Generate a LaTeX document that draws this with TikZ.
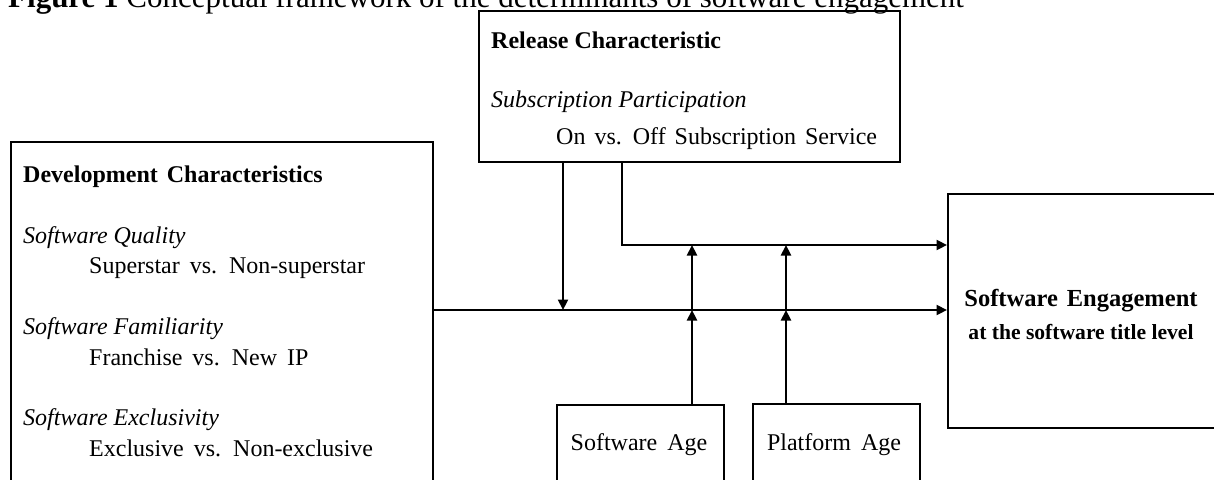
\documentclass[tikz,border=0pt]{standalone}
\usepackage{fontspec}
\setmainfont{Liberation Serif}
\usetikzlibrary{arrows.meta}
% wider interword gaps used in the box texts
\newcommand\wideten{\spaceskip=10pt\relax}
\newcommand\widenine{\spaceskip=9pt\relax}
\begin{document}
\begin{tikzpicture}[x=1pt,y=-1pt,
  box/.style={draw, line width=2.4pt, inner sep=0pt, anchor=north west},
  wire/.style={line width=2.2pt},
  arr/.style={wire, -{Triangle[length=10.5pt,width=10pt]}},
  body/.style={anchor=base west, inner sep=0pt,
    font=\fontsize{24}{29}\selectfont\wideten},
  head/.style={anchor=base west, inner sep=0pt,
    font=\fontsize{24}{29}\selectfont\bfseries\widenine},
  sub/.style={anchor=base west, inner sep=0pt,
    font=\fontsize{24}{29}\selectfont\itshape},
  mid/.style={anchor=base, inner sep=0pt,
    font=\fontsize{24}{29}\selectfont\wideten},
]
\path[use as bounding box] (0,0) rectangle (1214,479);
\clip (0,0) rectangle (1214,479);

% caption
\node[anchor=base west, inner sep=0pt, font=\fontsize{31}{37}\selectfont]
  (cap) at (8,7.5) {\textbf{Figure 1} Conceptual framework of the determinants of software engagement};

% boxes
\node[box, minimum width=422pt, minimum height=400pt] (dev)  at (10,141) {};
\node[box, minimum width=421pt, minimum height=151pt] (rel)  at (478,10) {};
\node[box, minimum width=271pt, minimum height=234pt] (se)   at (947,193) {};
\node[box, minimum width=167pt, minimum height=100pt] (sage) at (556,404) {};
\node[box, minimum width=167pt, minimum height=100pt] (page) at (752,403) {};

% development characteristics
\node[head] (d0) at (23,182) {Development Characteristics};
\node[sub]  (d1) at (23,243) {Software Quality};
\node[body] (d2) at (89,273) {Superstar vs. Non-superstar};
\node[sub]  (d3) at (23,334) {Software Familiarity};
\node[body] (d4) at (89,365) {Franchise vs. New IP};
\node[sub]  (d5) at (23,425) {Software Exclusivity};
\node[body] (d6) at (89,456) {Exclusive vs. Non-exclusive};

% release characteristic
\node[head, font=\fontsize{24}{29}\selectfont\bfseries] (r0) at (491,48) {Release Characteristic};
\node[sub]  (r1) at (491,107) {Subscription Participation};
\node[body, font=\fontsize{24}{29}\selectfont\widenine] (r2) at (556,144) {On vs. Off Subscription Service};

% outcome
\node[mid, font=\fontsize{24.5}{29}\selectfont\bfseries\widenine] (s0) at (1081,306) {Software Engagement};
\node[mid, font=\fontsize{21.6}{26}\selectfont\bfseries] (s1) at (1081,339) {at the software title level};

% age boxes
\node[mid] (a0) at (639,450) {Software Age};
\node[mid] (p0) at (834,450) {Platform Age};

% junction points
\coordinate (main) at (0,310);
\coordinate (upper) at (0,245);
\coordinate (jd) at (563,310);
\coordinate (ru) at (622,245);
\coordinate (s1m) at (692,310);
\coordinate (s1u) at (692,245);
\coordinate (p1m) at (786,310);
\coordinate (p1u) at (786,245);

% connectors
\draw[arr] (dev.east |- main) -- (se.west |- main);
\draw[arr] (rel.south -| jd) -- (jd);
\draw[arr] (rel.south -| ru) -- (ru) -- (se.west |- ru);
\draw[arr] (sage.north -| s1m) -- (s1m);
\draw[arr] (s1m) -- (s1u);
\draw[arr] (page.north -| p1m) -- (p1m);
\draw[arr] (p1m) -- (p1u);
\end{tikzpicture}
\end{document}
